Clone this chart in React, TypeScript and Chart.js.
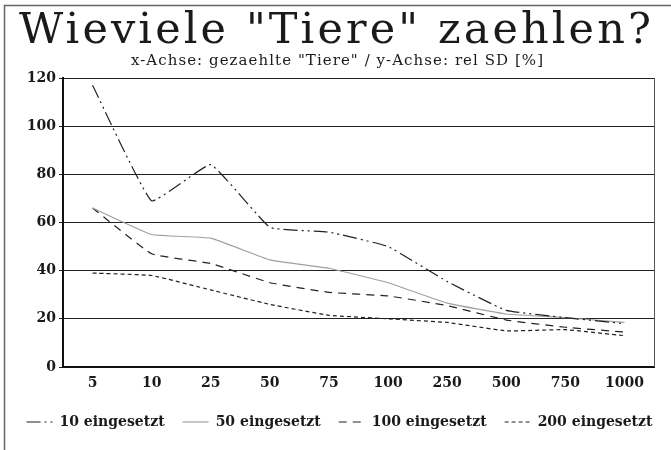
import React, { useEffect, useRef } from "react";
import { Chart, registerables } from "chart.js";

Chart.register(...registerables);

const TITLE = 'Wieviele "Tiere" zaehlen?';
const SUBTITLE = 'x-Achse: gezaehlte "Tiere" / y-Achse: rel SD [%]';

const categories = ["5", "10", "25", "50", "75", "100", "250", "500", "750", "1000"];
const series10 = [117, 69, 84, 58, 56, 50, 35.5, 23.5, 20.5, 18];
const series50 = [66, 55, 53.5, 44.5, 41, 35, 26.5, 22, 20.5, 18.5];
const series100 = [66, 47, 43, 35, 31, 29.5, 25.5, 19.5, 16.5, 14.5];
const series200 = [39, 38, 32, 26, 21.5, 20, 18.5, 15, 15.5, 13];
const seriesNames = ["10 eingesetzt", "50 eingesetzt", "100 eingesetzt", "200 eingesetzt"];
const yTicks = [0, 20, 40, 60, 80, 100, 120];

function drawSpaced(ctx: CanvasRenderingContext2D, text: string, x0: number, x1: number, y: number) {
  (ctx as any).letterSpacing = "0px";
  const w0 = ctx.measureText(text).width;
  const n = text.length;
  const sp = n > 1 ? (x1 - x0 - w0) / (n - 1) : 0;
  (ctx as any).letterSpacing = sp + "px";
  ctx.textAlign = "left";
  ctx.fillText(text, x0, y);
  (ctx as any).letterSpacing = "0px";
}

const decorPlugin = {
  id: "decor",
  afterDraw(chart: any) {
    const ctx: CanvasRenderingContext2D = chart.ctx;
    const a = chart.chartArea;
    ctx.save();
    ctx.strokeStyle = "#666";
    ctx.lineWidth = 1.5;
    ctx.beginPath();
    ctx.moveTo(4.5, 450);
    ctx.lineTo(4.5, 5.5);
    ctx.lineTo(671, 5.5);
    ctx.stroke();
    ctx.strokeStyle = "#555";
    ctx.lineWidth = 1;
    ctx.beginPath();
    ctx.moveTo(a.right + 0.5, a.top);
    ctx.lineTo(a.right + 0.5, a.bottom);
    ctx.stroke();
    ctx.fillStyle = "#1a1a1a";
    ctx.textBaseline = "alphabetic";
    ctx.font = '43px "DejaVu Serif"';
    drawSpaced(ctx, TITLE, 19, 651, 43);
    ctx.font = '15px "DejaVu Serif"';
    drawSpaced(ctx, SUBTITLE, 131, 543, 65);
    ctx.restore();
  },
};

export default function App() {
  const ref = useRef<HTMLCanvasElement | null>(null);
  useEffect(() => {
    if (!ref.current) return;
    const mk = (label: string, data: number[], color: string, dash: number[], width: number) => ({
      label,
      data,
      borderColor: color,
      backgroundColor: color,
      borderDash: dash,
      borderWidth: width,
      pointRadius: 0,
      tension: 0.1,
      fill: false,
      yAxisID: "y",
    });
    const chart = new Chart(ref.current, {
      type: "line",
      data: {
        labels: categories,
        datasets: [
          mk(seriesNames[0], series10, "#222", [14, 4, 2, 4, 2, 4], 1.2),
          mk(seriesNames[1], series50, "#a0a0a0", [], 1.2),
          mk(seriesNames[2], series100, "#222", [8, 6], 1.2),
          mk(seriesNames[3], series200, "#222", [4, 3], 1.2),
        ],
      },
      options: {
        animation: false,
        responsive: false,
        devicePixelRatio: 1,
        layout: { padding: { left: 8, right: 0, top: 78, bottom: 11 } },
        plugins: {
          title: { display: false },
          tooltip: { enabled: false },
          legend: {
            display: true,
            position: "bottom",
            labels: {
              usePointStyle: true,
              pointStyle: "line",
              pointStyleWidth: 26,
              boxHeight: 14,
              padding: 18,
              color: "#1a1a1a",
              font: { family: "DejaVu Serif", size: 14, weight: "bold" },
              generateLabels: (chart: any) => {
                const items = Chart.defaults.plugins.legend.labels.generateLabels(chart);
                items.forEach((it: any) => {
                  const ds = chart.data.datasets[it.datasetIndex];
                  it.lineDash = ds.borderDash;
                  it.strokeStyle = ds.borderColor;
                  it.lineWidth = ds.borderWidth;
                });
                return items;
              },
            },
          },
        },
        scales: {
          x: {
            type: "category",
            offset: true,
            grid: { display: false, drawTicks: false },
            border: { display: true, color: "#111", width: 2 },
            ticks: {
              color: "#1a1a1a",
              padding: 8,
              maxRotation: 0,
              autoSkip: false,
              font: { family: "DejaVu Serif", size: 14, weight: "bold" },
            },
            afterFit: (s: any) => {
              s.height = 30;
            },
          },
          y: {
            min: 0,
            max: 120,
            afterBuildTicks: (s: any) => {
              s.ticks = yTicks.map((v) => ({ value: v }));
            },
            grid: { color: "#222", lineWidth: 1, tickLength: 4 },
            border: { display: true, color: "#111", width: 2 },
            ticks: {
              color: "#1a1a1a",
              padding: 3,
              font: { family: "DejaVu Serif", size: 14, weight: "bold" },
            },
            afterFit: (s: any) => {
              s.width = 55;
            },
          },
          yr: {
            type: "linear",
            position: "right",
            display: true,
            min: 0,
            max: 120,
            grid: { display: false, drawTicks: false },
            border: { display: false },
            ticks: { display: false },
            afterFit: (s: any) => {
              s.width = 17;
            },
          },
        },
      },
      plugins: [decorPlugin],
    });
    return () => chart.destroy();
  }, []);
  return (
    <div style={{ position: "fixed", left: 0, top: 0, width: 671, height: 450, background: "#fff" }}>
      <canvas ref={ref} width={671} height={450} style={{ display: "block" }} />
    </div>
  );
}
